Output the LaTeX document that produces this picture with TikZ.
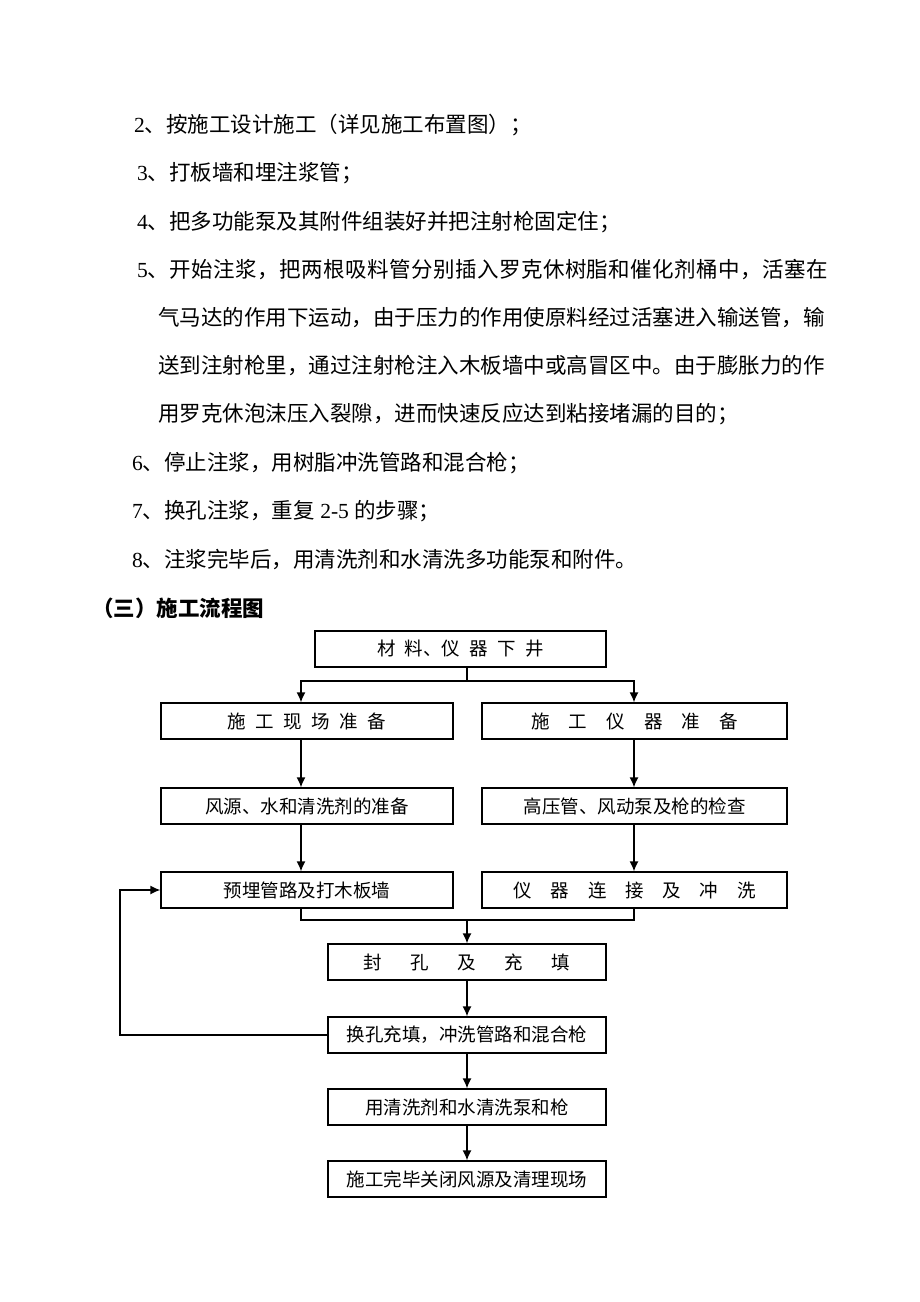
\documentclass[tikz,border=0pt]{standalone}
\usepackage{fontspec}
\usetikzlibrary{arrows.meta}
\newfontfamily\cjk{Noto Sans CJK SC}
\newfontfamily\num{Liberation Serif}
\newcommand\bodyfont{\cjk\fontsize{21.5}{24}\selectfont}
\newcommand\boxfont{\cjk\fontsize{18.5}{20}\selectfont}

\begin{document}
\begin{tikzpicture}[
        x=1pt, y=-1pt,
        txt/.style={anchor=west, inner sep=0pt, font=\bodyfont},
        box/.style={draw, line width=1.3pt, inner sep=0pt, minimum height=36pt, font=\boxfont},
        link/.style={line width=1.3pt},
        arr/.style={link, -{Latex[length=10pt,width=9pt]}}
    ]
    \useasboundingbox (0,0) rectangle (920,1302);

    \node[txt] (l2) at (134,125) {{\num 2}、按施工设计施工（详见施工布置图）；};
    \node[txt] (l3) at (137,173) {{\num 3}、打板墙和埋注浆管；};
    \node[txt] (l4) at (137,222) {{\num 4}、把多功能泵及其附件组装好并把注射枪固定住；};
    \node[txt] (l5) at (137,270) {{\num 5}{\addfontfeature{LetterSpace=2.1}、开始注浆，把两根吸料管分别插入罗克休树脂和催化剂桶中，活塞在}};
    \node[txt] (l5a) at (158,318) {气马达的作用下运动，由于压力的作用使原料经过活塞进入输送管，输};
    \node[txt] (l5b) at (158,366) {送到注射枪里，通过注射枪注入木板墙中或高冒区中。由于膨胀力的作};
    \node[txt] (l5c) at (158,414) {用罗克休泡沫压入裂隙，进而快速反应达到粘接堵漏的目的；};
    \node[txt] (l6) at (132,463) {{\num 6}、停止注浆，用树脂冲洗管路和混合枪；};
    \node[txt] (l7) at (132,511) {{\num 7}、换孔注浆，重复{\num\ 2-5 }的步骤；};
    \node[txt] (l8) at (132,560) {{\num 8}、注浆完毕后，用清洗剂和水清洗多功能泵和附件。};
    \node[txt, font=\bodyfont\bfseries] (title) at (92,608) {（三）施工流程图};

    \node[box, minimum width=291pt] (xiajing) at (460.5,649) {\makebox[167pt][s]{材 料、仪 器 下 井}};
    \node[box, minimum width=292pt] (xianchang) at (307,721) {\makebox[159pt][s]{施 工 现 场 准 备}};
    \node[box, minimum width=305pt] (yiqi) at (634.5,721) {\makebox[207pt][s]{施 工 仪 器 准 备}};
    \node[box, minimum width=292pt] (fengyuan) at (307,806) {风源、水和清洗剂的准备};
    \node[box, minimum width=305pt] (gaoya) at (634.5,806) {高压管、风动泵及枪的检查};
    \node[box, minimum width=292pt] (maiguan) at (307,890) {预埋管路及打木板墙};
    \node[box, minimum width=305pt] (lianjie) at (634.5,890) {\makebox[242pt][s]{仪 器 连 接 及 冲 洗}};
    \node[box, minimum width=278pt] (fengkong) at (467,962) {\makebox[207pt][s]{封 孔 及 充 填}};
    \node[box, minimum width=278pt] (huankong) at (467,1035) {换孔充填，冲洗管路和混合枪};
    \node[box, minimum width=278pt] (qingxi) at (467,1107) {用清洗剂和水清洗泵和枪};
    \node[box, minimum width=278pt] (wanbi) at (467,1179) {施工完毕关闭风源及清理现场};

    \coordinate (lcol) at (301,0);
    \coordinate (rcol) at (634,0);
    \coordinate (fork) at (467,681);
    \coordinate (merge) at (467,920);
    \coordinate (back) at (120,0);

    \draw[link] (fork |- xiajing.south) -- (fork);
    \draw[arr] (fork) -| (lcol |- xianchang.north);
    \draw[arr] (fork) -| (rcol |- yiqi.north);
    \draw[arr] (lcol |- xianchang.south) -- (lcol |- fengyuan.north);
    \draw[arr] (lcol |- fengyuan.south) -- (lcol |- maiguan.north);
    \draw[arr] (rcol |- yiqi.south) -- (rcol |- gaoya.north);
    \draw[arr] (rcol |- gaoya.south) -- (rcol |- lianjie.north);
    \draw[link] (lcol |- maiguan.south) |- (rcol |- merge) -- (rcol |- lianjie.south);
    \draw[arr] (merge) -- (fengkong.north);
    \draw[arr] (fengkong) -- (huankong);
    \draw[arr] (huankong) -- (qingxi);
    \draw[arr] (qingxi) -- (wanbi);
    \draw[arr] (huankong.west) -| (back |- maiguan.west) -- (maiguan.west);

\end{tikzpicture}
\end{document}
